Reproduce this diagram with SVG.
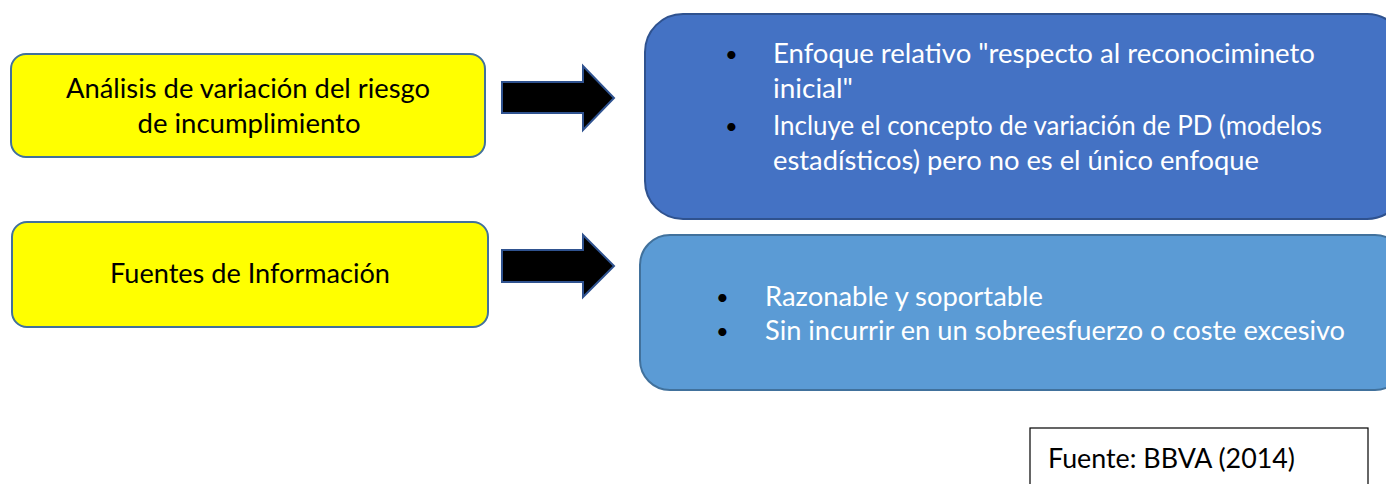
<svg xmlns="http://www.w3.org/2000/svg" width="1386" height="484" viewBox="0 0 1386 484">
<style>
text { font-family: Lato, "Open Sans", "Liberation Sans", sans-serif; }
.y { fill: #FFFF00; stroke: #41719C; stroke-width: 2; }
.b1 { fill: #4472C4; stroke: #2F528F; stroke-width: 2; }
.b2 { fill: #5B9BD5; stroke: #41719C; stroke-width: 2; }
.arr { fill: #000000; stroke: #2F528F; stroke-width: 2; }
.dk { fill: #000000; font-size: 26px; }
.wt { fill: #FFFFFF; font-size: 26px; }
.bul { fill: #000000; font-size: 22px; }
</style>
<rect width="1386" height="484" fill="#FFFFFF"/>
<g id="node-analisis">
<rect class="y" x="11" y="54" width="474" height="103" rx="15"/>
<text class="dk" x="248" y="98" text-anchor="middle" textLength="364" lengthAdjust="spacingAndGlyphs">Análisis de variación del riesgo</text>
<text class="dk" x="249" y="133" text-anchor="middle" textLength="223" lengthAdjust="spacingAndGlyphs">de incumplimiento</text>
</g>
<g id="node-fuentes">
<rect class="y" x="12" y="222" width="476" height="105" rx="15"/>
<text class="dk" x="250" y="283" text-anchor="middle" textLength="280" lengthAdjust="spacingAndGlyphs">Fuentes de Información</text>
</g>
<g id="node-enfoque">
<rect class="b1" x="645" y="14" width="760" height="205" rx="38"/>
<text class="bul" x="725" y="62">•</text>
<text class="wt" x="773" y="63" textLength="542" lengthAdjust="spacingAndGlyphs">Enfoque relativo "respecto al reconocimineto</text>
<text class="wt" x="773" y="98" textLength="80" lengthAdjust="spacingAndGlyphs">inicial"</text>
<text class="bul" x="725" y="134">•</text>
<text class="wt" x="773" y="135" textLength="549" lengthAdjust="spacingAndGlyphs">Incluye el concepto de variación de PD (modelos</text>
<text class="wt" x="773" y="170" textLength="486" lengthAdjust="spacingAndGlyphs">estadísticos) pero no es el único enfoque</text>
</g>
<g id="node-razonable">
<rect class="b2" x="640" y="235" width="765" height="155" rx="30"/>
<text class="bul" x="716" y="305">•</text>
<text class="wt" x="765" y="306" textLength="278" lengthAdjust="spacingAndGlyphs">Razonable y soportable</text>
<text class="bul" x="716" y="339">•</text>
<text class="wt" x="765" y="340" textLength="580" lengthAdjust="spacingAndGlyphs">Sin incurrir en un sobreesfuerzo o coste excesivo</text>
</g>
<g id="node-fuente">
<rect x="1030" y="428" width="338" height="70" fill="#FFFFFF" stroke="#000000" stroke-width="1.2"/>
<text class="dk" x="1048" y="468" textLength="247" lengthAdjust="spacingAndGlyphs">Fuente: BBVA (2014)</text>
</g>
<g id="connectors">
<polygon class="arr" points="502,82 583,82 583,66 614,98 583,130 583,113 502,113"/>
<polygon class="arr" points="502,250 583,250 583,235 614,266 583,297 583,282 502,282"/>
</g>
</svg>
